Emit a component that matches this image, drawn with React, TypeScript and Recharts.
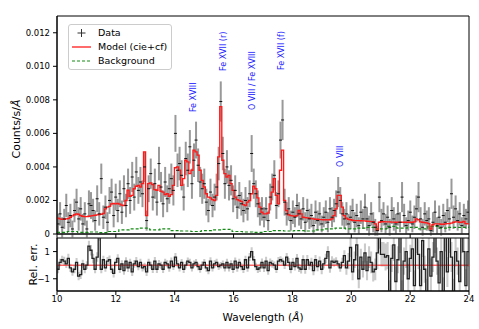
import React from "react";
import {
  ComposedChart,
  Line,
  Scatter,
  ErrorBar,
  XAxis,
  YAxis,
  ReferenceArea,
  ReferenceDot,
  ReferenceLine,
  Area,
  Label,
} from "recharts";

const FONT = '"DejaVu Sans", "Liberation Sans", sans-serif';

// spectral binning (Angstrom)
const WAVE_START = 10;
const WAVE_END = 24;
const BIN = 0.07;
const UNIT = 1e-4; // arrays below are in units of 1e-4 counts/s/A

const modelE4 = [
  9.5, 9.0, 8.8, 8.8, 9.0, 9.2, 10.0, 10.8, 11.5, 12.0,
  11.8, 11.0, 10.6, 10.4, 10.4, 10.6, 10.8, 11.0, 11.2, 11.4,
  11.6, 11.8, 12.2, 15.0, 16.0, 16.5, 18.0, 18.2, 18.0, 18.2,
  17.8, 17.2, 17.0, 20.0, 26.2, 22.5, 23.0, 27.0, 28.5, 29.0,
  28.0, 30.0, 49.0, 11.0, 30.0, 30.5, 29.5, 26.5, 26.0, 29.0,
  25.5, 25.0, 23.5, 24.0, 22.5, 23.5, 29.0, 39.5, 40.0, 38.0,
  29.0, 33.0, 44.0, 43.0, 36.0, 38.0, 50.0, 49.0, 47.0, 38.0,
  32.0, 28.0, 24.0, 22.0, 21.5, 20.5, 20.0, 23.0, 46.0, 76.0,
  44.0, 36.0, 34.0, 35.0, 30.0, 26.0, 22.0, 20.5, 20.0, 19.5,
  17.5, 17.0, 19.0, 20.0, 24.0, 28.5, 27.0, 21.5, 16.0, 13.0,
  12.0, 12.0, 12.5, 18.0, 25.0, 33.0, 23.0, 18.0, 38.0, 50.0,
  20.0, 14.0, 11.5, 11.0, 10.8, 10.5, 11.0, 14.0, 12.0, 10.0,
  9.8, 9.6, 9.4, 9.2, 9.0, 8.8, 8.8, 8.6, 8.6, 8.5,
  8.5, 8.4, 8.5, 9.0, 11.0, 15.0, 23.0, 23.0, 16.0, 11.0,
  9.5, 8.8, 8.5, 8.2, 8.0, 8.0, 8.0, 7.9, 7.8, 7.8,
  7.6, 7.5, 7.4, 7.4, 6.0, 2.2, 7.0, 7.3, 7.3, 7.2,
  7.2, 7.2, 7.1, 7.1, 7.0, 7.0, 7.0, 7.1, 7.0, 7.0,
  7.0, 7.0, 7.0, 7.2, 9.0, 8.5, 7.2, 7.0, 6.8, 6.6,
  6.2, 3.0, 5.5, 6.0, 6.0, 6.0, 5.8, 5.8, 6.0, 6.2,
  6.2, 6.5, 7.0, 7.2, 7.2, 7.0, 7.0, 7.5, 6.2, 6.0,
];

const dataE4 = [
  6, 12, 4, 9, 17, 7, 11, 3, 14, 19,
  9, 15, 6, 12, 3, 18, 17, 14, 8, 21,
  12, 33, 10, 16, 7, 20, 25, 11, 22, 14,
  24, 13, 27, 17, 30, 20, 34, 22, 37, 26,
  31, 24, 40, 8, 27, 36, 22, 30, 19, 42,
  28, 18, 31, 21, 27, 33, 26, 60, 38, 42,
  35, 22, 45, 38, 52, 30, 44, 56, 41, 31,
  27, 30, 19, 14, 25, 17, 22, 28, 42, 79,
  48, 30, 40, 29, 32, 21, 26, 16, 23, 18,
  14, 20, 15, 24, 48, 30, 24, 18, 12, 15,
  10, 15, 8, 22, 28, 35, 17, 24, 56, 68,
  19, 12, 15, 8, 13, 10, 17, 12, 9, 15,
  7, 14, 9, 11, 5, 13, 8, 12, 6, 10,
  13, 7, 15, 10, 14, 18, 25, 20, 12, 9,
  12, 6, 10, 14, 7, 11, 5, 13, 9, 16,
  9, 5, 12, 7, 4, 2, 22, 8, 12, 6,
  10, 4, 14, 9, 6, 12, 7, 22, 11, 5,
  8, 13, 6, 10, 15, 22, 9, 4, 12, 8,
  9, 2, 7, 13, 5, 10, 4, 11, 7, 14,
  9, 24, 10, 15, 8, 12, 5, 11, 9, 13,
];

const errE4 = [
  6, 7, 6, 6, 7, 6, 7, 5, 7, 8,
  7, 7, 6, 7, 5, 8, 8, 7, 6, 8,
  7, 9, 7, 7, 6, 8, 8, 7, 8, 7,
  8, 7, 8, 7, 9, 8, 9, 8, 9, 8,
  9, 8, 9, 6, 8, 9, 8, 9, 8, 10,
  9, 8, 9, 8, 9, 9, 9, 11, 10, 10,
  9, 8, 10, 10, 10, 9, 10, 11, 10, 9,
  9, 9, 8, 7, 8, 7, 8, 8, 10, 12,
  10, 9, 10, 9, 9, 8, 9, 7, 8, 7,
  7, 8, 7, 8, 11, 9, 8, 8, 7, 7,
  6, 7, 6, 8, 8, 9, 8, 8, 11, 12,
  8, 7, 7, 6, 7, 6, 7, 7, 6, 7,
  6, 7, 6, 7, 5, 7, 6, 7, 5, 6,
  7, 6, 7, 6, 7, 8, 9, 8, 7, 6,
  7, 6, 7, 7, 6, 7, 5, 7, 6, 8,
  7, 6, 7, 6, 5, 3, 9, 7, 7, 6,
  7, 5, 8, 7, 6, 7, 6, 9, 7, 5,
  6, 7, 5, 7, 8, 9, 7, 5, 7, 6,
  7, 3, 6, 7, 5, 7, 5, 7, 6, 7,
  7, 9, 7, 8, 6, 7, 5, 7, 6, 7,
];

const residVals = [
  -0.3, 0.2, 0.4, 0.3, 0.1, 0.5, -0.2, -0.5, -0.3, 0.2,
  -0.8, -0.7, 0.1, -0.3, 0.0, 1.4, 1.1, 0.5, -0.3, 0.6,
  2.2, -0.3, 0.4, -0.2, 0.3, 0.4, -0.3, -0.6, 0.2, 0.5,
  -0.3, 0.1, -0.4, 0.3, -0.2, 0.2, -0.5, 0.1, 0.3, -0.1,
  0.2, -0.2, -0.1, -0.5, 0.2, 0.0, -0.3, 0.3, -0.3, 0.1,
  0.0, -0.3, 0.2, 0.1, -0.2, 0.3, -0.1, 0.6, 0.1, -0.2,
  0.2, -0.3, 0.0, 0.3, 0.2, -0.2, 0.1, 0.2, -0.1, -0.3,
  0.0, 0.2, -0.2, -0.4, 0.3, -0.2, 0.1, 0.2, -0.1, 0.0,
  0.1, -0.2, 0.2, -0.2, 0.1, -0.3, 0.3, -0.2, 0.2, -0.1,
  -0.3, 0.4, -0.2, 0.6, 1.0, 0.4, -0.1, -0.3, -0.2, 0.2,
  -0.2, 0.3, -0.4, 0.2, 0.1, 0.0, -0.3, 0.3, 0.4, 0.3,
  0.0, 0.6, 0.2, -0.3, 0.2, -0.1, 0.5, -0.2, -0.3, 0.4,
  -0.3, 0.4, 0.0, 0.2, -0.4, 0.4, -0.1, 0.3, -0.3, 0.1,
  0.5, 1.0, -0.2, 0.3, 0.2, 0.3, 0.1, -0.2, 0.2, 0.7,
  -0.2, 0.3, 1.3, -0.5, 0.4, 1.5, -1.0, 0.6, -0.3, 0.9,
  -0.4, 0.6, 0.2, -0.5, -0.3, 0.9, 2.2, 0.8, 0.8, 0.6,
  0.7, -2.2, 0.5, 1.5, -1.2, 0.4, 2.2, -2.2, 0.3, 1.0,
  -1.0, 0.5, 1.2, -1.5, 2.2, 0.8, -1.5, 1.8, -0.3, -2.2,
  1.2, -0.8, 0.6, 2.2, 0.3, -1.3, 1.0, -2.2, 2.2, -0.5,
  2.2, 0.6, -2.2, 1.0, 0.3, -1.2, 2.2, 1.0, -1.5, 1.0,
];

const residErrVals = [
  0.30, 0.28, 0.30, 0.32, 0.30, 0.35, 0.30, 0.28, 0.30, 0.32,
  0.30, 0.32, 0.30, 0.30, 0.28, 0.40, 0.38, 0.35, 0.30, 0.35,
  0.40, 0.30, 0.30, 0.28, 0.30, 0.32, 0.28, 0.30, 0.28, 0.30,
  0.28, 0.26, 0.30, 0.28, 0.30, 0.27, 0.30, 0.28, 0.30, 0.27,
  0.28, 0.26, 0.28, 0.30, 0.27, 0.26, 0.28, 0.30, 0.27, 0.28,
  0.26, 0.28, 0.27, 0.26, 0.28, 0.27, 0.26, 0.30, 0.26, 0.27,
  0.26, 0.27, 0.25, 0.26, 0.27, 0.26, 0.25, 0.26, 0.27, 0.26,
  0.27, 0.26, 0.28, 0.27, 0.28, 0.27, 0.28, 0.27, 0.25, 0.24,
  0.25, 0.26, 0.27, 0.26, 0.27, 0.28, 0.27, 0.28, 0.27, 0.28,
  0.28, 0.30, 0.28, 0.30, 0.32, 0.28, 0.27, 0.28, 0.30, 0.30,
  0.30, 0.32, 0.30, 0.30, 0.28, 0.27, 0.28, 0.30, 0.26, 0.25,
  0.28, 0.30, 0.32, 0.30, 0.32, 0.30, 0.32, 0.30, 0.32, 0.33,
  0.33, 0.34, 0.33, 0.34, 0.35, 0.34, 0.35, 0.34, 0.36, 0.35,
  0.35, 0.40, 0.35, 0.35, 0.30, 0.28, 0.25, 0.28, 0.35, 0.40,
  0.50, 0.60, 0.70, 0.60, 0.60, 0.80, 0.70, 0.60, 0.60, 0.70,
  0.70, 0.80, 0.80, 0.70, 0.80, 1.20, 1.00, 0.90, 0.90, 1.00,
  1.00, 1.10, 1.00, 1.20, 1.10, 1.00, 1.30, 1.10, 1.00, 1.20,
  1.10, 1.00, 1.20, 1.10, 1.30, 1.10, 1.20, 1.20, 1.00, 1.20,
  1.10, 1.30, 1.10, 1.30, 1.00, 1.20, 1.10, 1.30, 1.20, 1.10,
  1.30, 1.10, 1.20, 1.10, 1.00, 1.20, 1.30, 1.10, 1.20, 1.10,
];

const bgWave = [
  10.0, 10.35, 10.7, 11.05, 11.4, 11.75, 12.1, 12.45, 12.8, 13.15,
  13.5, 13.85, 14.2, 14.55, 14.9, 15.25, 15.6, 15.95, 16.3, 16.65,
  17.0, 17.35, 17.7, 18.05, 18.4, 18.75, 19.1, 19.45, 19.8, 20.15,
  20.5, 20.85, 21.2, 21.55, 21.9, 22.25, 22.6, 22.95, 23.3, 23.65, 24.0,
];
const bgE4 = [
  1.0, 1.5, 1.0, 1.2, 0.8, 1.5, 2.5, 3.0, 3.5, 2.5,
  3.0, 2.0, 1.8, 1.5, 2.0, 2.5, 2.8, 1.5, 1.2, 1.0,
  1.5, 2.0, 1.8, 2.0, 1.8, 2.5, 3.0, 3.5, 3.0, 3.5,
  4.0, 3.0, 4.5, 3.5, 4.0, 3.0, 4.5, 3.5, 4.0, 4.0, 4.5,
];

const xTicks = [10, 12, 14, 16, 18, 20, 22, 24];
const yTicksTop = [0, 0.002, 0.004, 0.006, 0.008, 0.01, 0.012];
const residTicks = [-1, 1];

const annotations = [
  { text: "Fe XVIII", x: 14.63, y: 0.00727 },
  { text: "Fe XVII (r)", x: 15.67, y: 0.00972 },
  { text: "O VIII / Fe XVIII", x: 16.64, y: 0.00739 },
  { text: "Fe XVII (f)", x: 17.64, y: 0.00978 },
  { text: "O VIII", x: 19.62, y: 0.004 },
];

// tables built from the arrays
const pointRows = dataE4.map((d, i) => ({
  x: WAVE_START + BIN * (i + 0.5),
  y: d * UNIT,
  err: errE4[i] * UNIT,
}));
const modelRows = [
  ...modelE4.map((m, i) => ({ x: WAVE_START + BIN * i, model: m * UNIT })),
  { x: WAVE_END, model: modelE4[modelE4.length - 1] * UNIT },
];
const bgRows = bgWave.map((w, i) => ({ x: w, bg: bgE4[i] * UNIT }));
const residRows = [
  ...residVals.map((r, i) => ({
    x: WAVE_START + BIN * i,
    resid: r,
    band: [r - residErrVals[i], r + residErrVals[i]],
  })),
  {
    x: WAVE_END,
    resid: residVals[residVals.length - 1],
    band: [
      residVals[residVals.length - 1] - residErrVals[residErrVals.length - 1],
      residVals[residVals.length - 1] + residErrVals[residErrVals.length - 1],
    ],
  },
];

const AXIS_COLOR = "#000";
const BG_COLOR = "#138a13";
const MODEL_COLOR = "#ff1a1a";

const DataMark = (props: any) => {
  const { cx, cy } = props;
  if (cx == null || cy == null) return null;
  return <line x1={cx - 1.5} x2={cx + 1.5} y1={cy} y2={cy} stroke="#111" strokeWidth={1} />;
};

const annoLabel = (text: string) => (props: any) => {
  const vb = props.viewBox || {};
  const x = (vb.x || 0) + (vb.width || 0) / 2;
  const y = (vb.y || 0) + (vb.height || 0) / 2;
  return (
    <text
      x={x}
      y={y}
      transform={`rotate(-90 ${x} ${y})`}
      fill="#1a1aff"
      fontSize={8}
      fontFamily={FONT}
      textAnchor="start"
      dominantBaseline="central"
    >
      {text}
    </text>
  );
};

const YLabelTop = (props: any) => {
  const vb = props.viewBox || {};
  const x = 16;
  const y = (vb.y || 0) + (vb.height || 0) / 2 + 4;
  return (
    <text
      x={x}
      y={y}
      transform={`rotate(-90 ${x} ${y})`}
      textAnchor="middle"
      dominantBaseline="central"
      fontSize={11}
      fontFamily={FONT}
      fill="#000"
    >
      Counts/s/<tspan fontStyle="italic">Å</tspan>
    </text>
  );
};

const YLabelBottom = (props: any) => {
  const vb = props.viewBox || {};
  const x = 33;
  const y = (vb.y || 0) + (vb.height || 0) / 2;
  return (
    <text
      x={x}
      y={y}
      transform={`rotate(-90 ${x} ${y})`}
      textAnchor="middle"
      dominantBaseline="central"
      fontSize={11}
      fontFamily={FONT}
      fill="#000"
    >
      Rel. err.
    </text>
  );
};

const XLabel = (props: any) => {
  const vb = props.viewBox || {};
  const x = (vb.x || 0) + (vb.width || 0) / 2;
  const y = (vb.y || 0) + 26;
  return (
    <text
      x={x}
      y={y}
      textAnchor="middle"
      dominantBaseline="central"
      fontSize={10.5}
      fontFamily={FONT}
      fill="#000"
    >
      Wavelength (<tspan fontStyle="italic">Å</tspan>)
    </text>
  );
};

const fmtTop = (v: number) => (v === 0 ? "0" : v.toFixed(3));
const fmtResid = (v: number) => (v < 0 ? `\u2212${Math.abs(v)}` : `${v}`);

const legendRow: React.CSSProperties = {
  height: 14,
  display: "flex",
  alignItems: "center",
};

export default function App() {
  return (
    <div
      style={{
        position: "absolute",
        left: 0,
        top: 0,
        width: 479,
        height: 329,
        background: "#fff",
        fontFamily: FONT,
        overflow: "hidden",
      }}
    >
      <div style={{ position: "absolute", left: 0, top: 0 }}>
        <ComposedChart
          width={479}
          height={240}
          data={modelRows}
          margin={{ top: 16, right: 10, bottom: 0, left: 7 }}
        >
          <XAxis
            type="number"
            dataKey="x"
            domain={[WAVE_START, WAVE_END]}
            ticks={xTicks}
            allowDataOverflow
            height={6}
            tickSize={4}
            tickFormatter={() => ""}
            axisLine={{ stroke: AXIS_COLOR }}
            tickLine={{ stroke: AXIS_COLOR }}
          />
          <YAxis
            type="number"
            domain={[0, 0.013]}
            ticks={yTicksTop}
            allowDataOverflow
            width={50}
            tickSize={4}
            tickMargin={3}
            tick={{ fontSize: 8.5, fill: "#000" }}
            tickFormatter={fmtTop}
            axisLine={{ stroke: AXIS_COLOR }}
            tickLine={{ stroke: AXIS_COLOR }}
          >
            <Label content={<YLabelTop />} />
          </YAxis>
          <ReferenceArea
            x1={WAVE_START}
            x2={WAVE_END}
            y1={0}
            y2={0.013}
            fill="none"
            stroke={AXIS_COLOR}
            strokeWidth={1}
          />
          <Scatter
            data={pointRows}
            dataKey="y"
            shape={<DataMark />}
            isAnimationActive={false}
          >
            <ErrorBar
              dataKey="err"
              direction="y"
              width={0}
              stroke="#555"
              strokeOpacity={0.6}
              strokeWidth={2}
            />
          </Scatter>
          <Line
            data={bgRows}
            dataKey="bg"
            type="stepAfter"
            stroke={BG_COLOR}
            strokeWidth={1.2}
            strokeDasharray="3 2"
            dot={false}
            isAnimationActive={false}
          />
          <Line
            dataKey="model"
            type="stepAfter"
            stroke={MODEL_COLOR}
            strokeWidth={1.35}
            dot={false}
            isAnimationActive={false}
          />
          {annotations.map((a) => (
            <ReferenceDot
              key={a.text}
              x={a.x}
              y={a.y}
              r={0}
              fill="none"
              stroke="none"
              label={{ content: annoLabel(a.text) } as any}
            />
          ))}
        </ComposedChart>
      </div>

      <div style={{ position: "absolute", left: 0, top: 236 }}>
        <ComposedChart
          width={479}
          height={93}
          data={residRows}
          margin={{ top: 2, right: 10, bottom: 0, left: 7 }}
        >
          <XAxis
            type="number"
            dataKey="x"
            domain={[WAVE_START, WAVE_END]}
            ticks={xTicks}
            allowDataOverflow
            height={38}
            tickSize={4}
            tickMargin={1}
            tick={{ fontSize: 8.5, fill: "#000" }}
            axisLine={{ stroke: AXIS_COLOR }}
            tickLine={{ stroke: AXIS_COLOR }}
          >
            <Label content={<XLabel />} />
          </XAxis>
          <YAxis
            type="number"
            domain={[-1.9, 2.0]}
            ticks={residTicks}
            allowDataOverflow
            width={50}
            tickSize={4}
            tickMargin={3}
            tick={{ fontSize: 8.5, fill: "#000" }}
            tickFormatter={fmtResid}
            axisLine={{ stroke: AXIS_COLOR }}
            tickLine={{ stroke: AXIS_COLOR }}
          >
            <Label content={<YLabelBottom />} />
          </YAxis>
          <Area
            dataKey="band"
            type="stepAfter"
            fill="#a8a8a8"
            fillOpacity={0.6}
            stroke="none"
            isAnimationActive={false}
          />
          <ReferenceLine y={0} stroke={MODEL_COLOR} strokeWidth={1} />
          <Line
            dataKey="resid"
            type="stepAfter"
            stroke="#222"
            strokeWidth={1.3}
            dot={false}
            isAnimationActive={false}
          />
          <ReferenceArea
            x1={WAVE_START}
            x2={WAVE_END}
            y1={-1.9}
            y2={2.0}
            fill="none"
            stroke={AXIS_COLOR}
            strokeWidth={1}
          />
        </ComposedChart>
      </div>

      <div
        style={{
          position: "absolute",
          left: 68,
          top: 24,
          width: 104,
          height: 46,
          boxSizing: "border-box",
          border: "1px solid #cccccc",
          borderRadius: 3,
          background: "rgba(255,255,255,0.85)",
          paddingTop: 1,
          fontSize: 9.5,
          color: "#000",
          lineHeight: "14px",
        }}
      >
        <div style={legendRow}>
          <svg width={19} height={14} style={{ marginLeft: 3 }}>
            <line x1={9.5} x2={9.5} y1={3} y2={11} stroke="#333" strokeWidth={1} />
            <line x1={5.5} x2={13.5} y1={7} y2={7} stroke="#333" strokeWidth={1} />
          </svg>
          <span style={{ marginLeft: 7 }}>Data</span>
        </div>
        <div style={legendRow}>
          <svg width={19} height={14} style={{ marginLeft: 3 }}>
            <line x1={0} x2={19} y1={7} y2={7} stroke={MODEL_COLOR} strokeWidth={1.3} />
          </svg>
          <span style={{ marginLeft: 7 }}>Model (cie+cf)</span>
        </div>
        <div style={legendRow}>
          <svg width={19} height={14} style={{ marginLeft: 3 }}>
            <line
              x1={0}
              x2={19}
              y1={7}
              y2={7}
              stroke={BG_COLOR}
              strokeWidth={1}
              strokeDasharray="3 2"
            />
          </svg>
          <span style={{ marginLeft: 7 }}>Background</span>
        </div>
      </div>
    </div>
  );
}
